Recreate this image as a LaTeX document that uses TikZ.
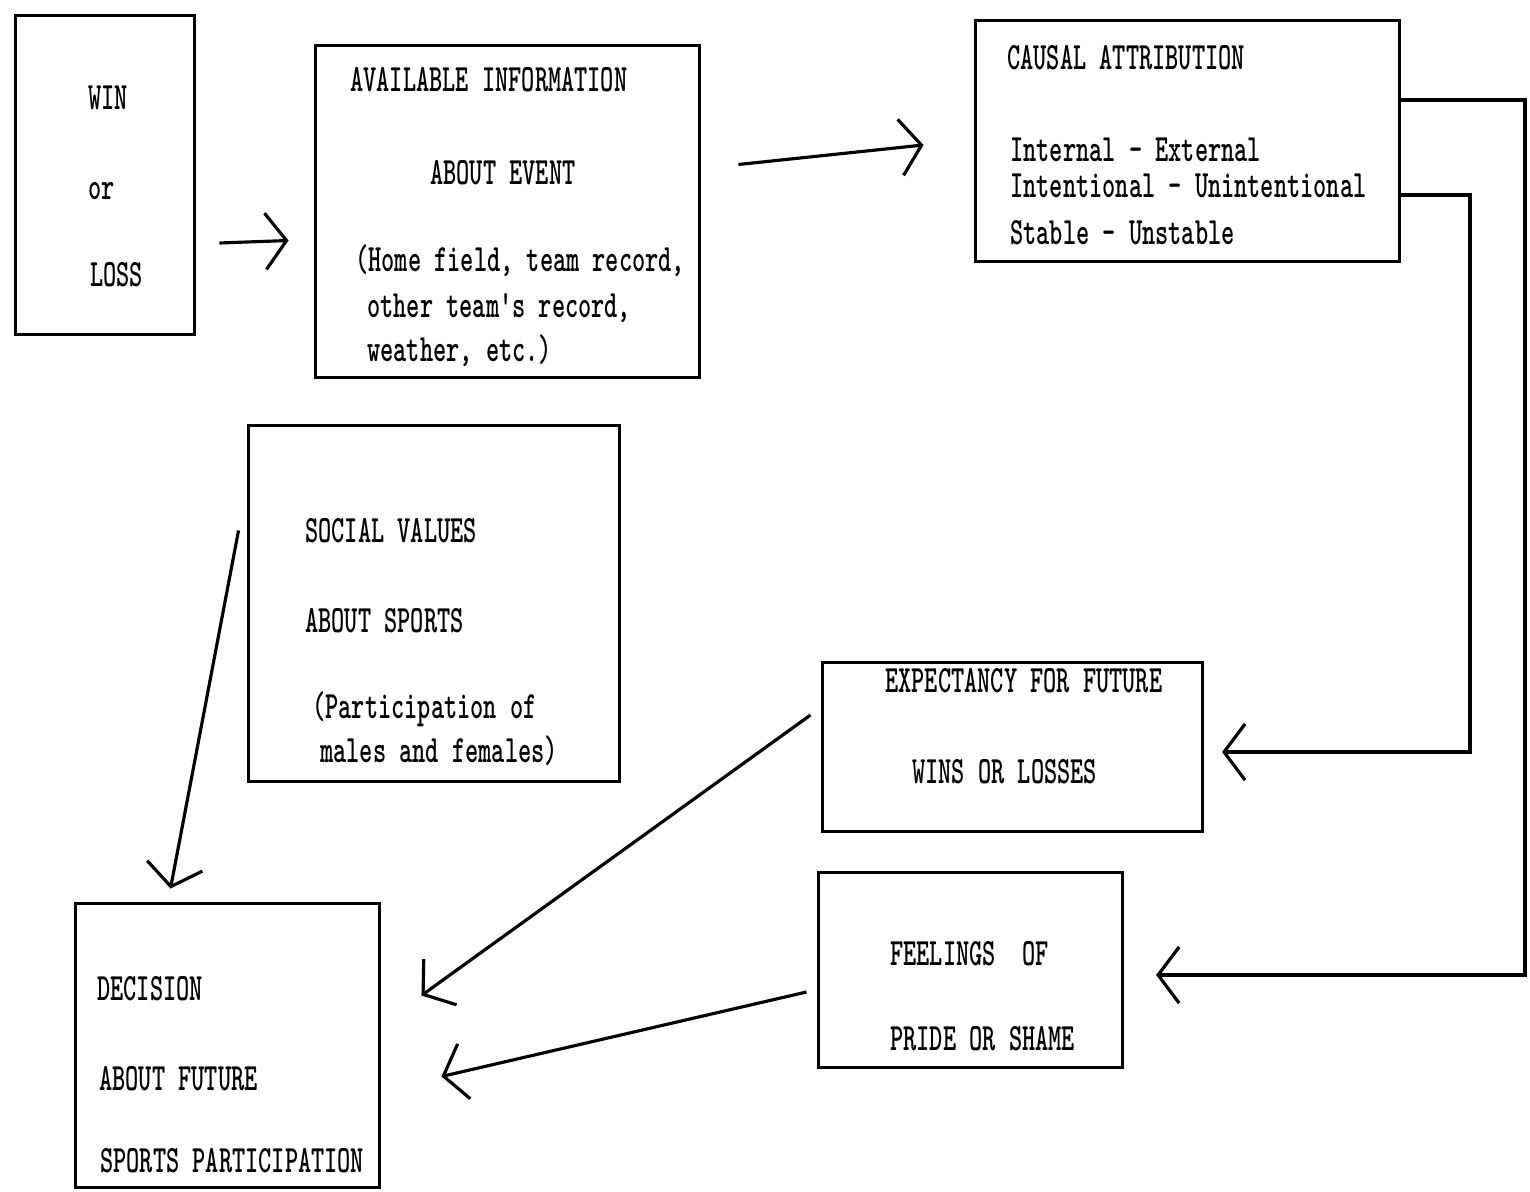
\documentclass[tikz,border=0pt]{standalone}
\usepackage{graphicx}
\usepackage{tikz}
\usetikzlibrary{arrows.meta}
\usetikzlibrary{calc}

% condensed typewriter lettering
\newcommand{\tw}[1]{\scalebox{0.65}[1]{\ttfamily\bfseries\fontsize{22}{26}\selectfont #1}}

\tikzset{
  box/.style={draw, line width=1.7pt, inner sep=0pt},
  txt/.style={anchor=base west, inner sep=0pt},
  flow/.style={line width=1.8pt, -{Straight Barb[length=12pt,width=32pt,line width=1.8pt]}},
}

\begin{document}
\begin{tikzpicture}[x=0.02cm, y=-0.02cm]
    \useasboundingbox (0,0) rectangle (1530,1192);

    % Boxes
    \node[box, minimum width=3.6cm, minimum height=6.4cm] (win) at (105,175) {};
    \node[box, minimum width=7.7cm, minimum height=6.66cm] (avail) at (507.5,211.5) {};
    \node[box, minimum width=8.5cm, minimum height=4.84cm] (causal) at (1187.5,141) {};
    \node[box, minimum width=7.44cm, minimum height=7.14cm] (social) at (434,603.5) {};
    \node[box, minimum width=7.62cm, minimum height=3.4cm] (expect) at (1012.5,747) {};
    \node[box, minimum width=6.1cm, minimum height=3.92cm] (feel) at (970.5,970) {};
    \node[box, minimum width=6.1cm, minimum height=5.7cm] (decide) at (227.5,1045.5) {};

    % Texts - win or loss
    \node[txt] (w1) at (88,110) {\tw{WIN}};
    \node[txt] (w2) at (88,200) {\tw{or}};
    \node[txt] (w3) at (90,287) {\tw{LOSS}};

    % Texts - available information
    \node[txt] (a1) at (350,92) {\tw{AVAILABLE INFORMATION}};
    \node[txt] (a2) at (430,185) {\tw{ABOUT EVENT}};
    \node[txt] (a3) at (355,272) {\tw{(Home field, team record,}};
    \node[txt] (a4) at (367,318) {\tw{other team's record,}};
    \node[txt] (a5) at (367,362) {\tw{weather, etc.)}};

    % Texts - causal attribution
    \node[txt] (c1) at (1007,70) {\tw{CAUSAL ATTRIBUTION}};
    \node[txt] (c2) at (1010,162) {\tw{Internal - External}};
    \node[txt] (c3) at (1010,198) {\tw{Intentional - Unintentional}};
    \node[txt] (c4) at (1010,245) {\tw{Stable - Unstable}};

    % Texts - social values
    \node[txt] (s1) at (305,542) {\tw{SOCIAL VALUES}};
    \node[txt] (s2) at (305,632) {\tw{ABOUT SPORTS}};
    \node[txt] (s3) at (312,718) {\tw{(Participation of}};
    \node[txt] (s4) at (320,762) {\tw{males and females)}};

    % Texts - expectancy
    \node[txt] (e1) at (885,692) {\tw{EXPECTANCY FOR FUTURE}};
    \node[txt] (e2) at (912,783) {\tw{WINS OR LOSSES}};

    % Texts - feelings
    \node[txt] (f1) at (890,965) {\tw{FEELINGS\ \ OF}};
    \node[txt] (f2) at (890,1050) {\tw{PRIDE OR SHAME}};

    % Texts - decision
    \node[txt] (d1) at (97,1000) {\tw{DECISION}};
    \node[txt] (d2) at (99,1090) {\tw{ABOUT FUTURE}};
    \node[txt] (d3) at (100,1172) {\tw{SPORTS PARTICIPATION}};

    % Connections
    \draw[flow] ($(win.east)+(23,68)$) -- ($(avail.west)+(-25,29)$);
    \draw[flow] ($(avail.east)+(37,-47)$) -- ($(causal.west)+(-50,4)$);
    \draw[flow] ($(social.west)+(-8,-73)$) -- ($(decide.north)+(-57,-13)$);
    \draw[flow] ($(expect.west)+(-10,-32)$) -- ($(decide.east)+(40,-50)$);
    \draw[flow] ($(feel.west)+(-10,22)$) -- ($(decide.east)+(60,31)$);

    % Feedback lines from causal attribution
    \coordinate (ro1) at (1525,100);
    \coordinate (ro2) at (1525,975);
    \coordinate (ri1) at (1470,195);
    \coordinate (ri2) at (1470,752);
    \draw[flow, shorten >=18pt] (causal.east |- ro1) -- (ro1) -- (ro2) -- (feel.east |- ro2);
    \draw[flow, shorten >=10pt] (causal.east |- ri1) -- (ri1) -- (ri2) -- (expect.east |- ri2);
\end{tikzpicture}
\end{document}
